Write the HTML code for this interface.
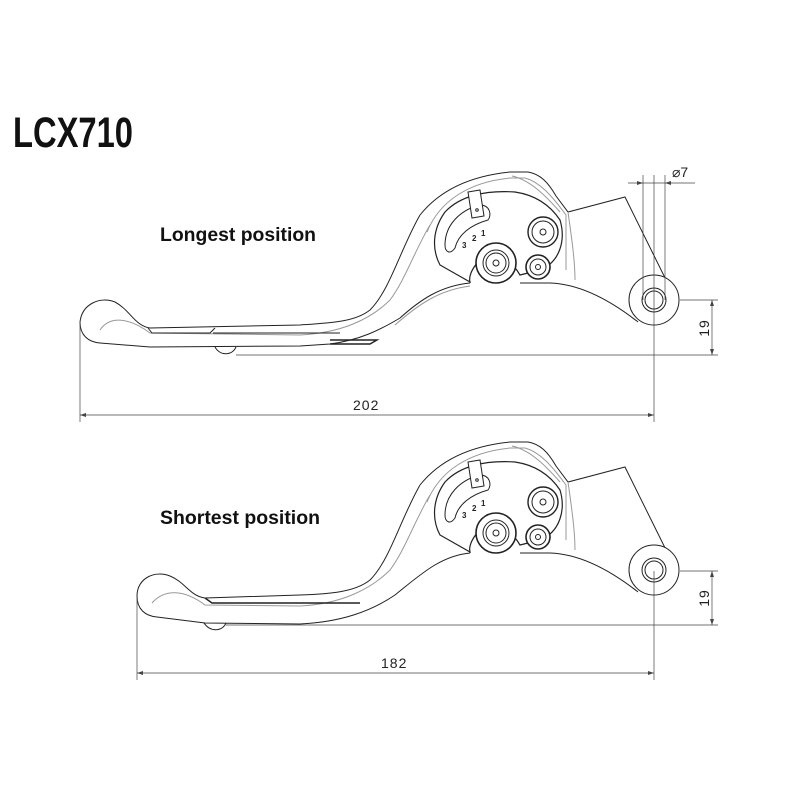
<!DOCTYPE html>
<html><head><meta charset="utf-8"><style>
html,body{margin:0;padding:0;background:#fff;}
svg{display:block;}
text{font-family:"Liberation Sans",sans-serif;}
</style></head><body>
<svg width="800" height="800" viewBox="0 0 800 800" xmlns="http://www.w3.org/2000/svg">
<defs>
<g id="head" fill="none" stroke="#222" stroke-width="1">
  <path d="M420,215 C440,190 470,176 510,172 L528,172 C540,174 548,182 556,196 L568,212 L625,197 L672,292"/>
  <path d="M512,176 C530,180 545,195 560,212" stroke="#999"/>
  <circle cx="654" cy="300" r="25" fill="#fff"/>
  <circle cx="654" cy="300" r="12"/>
  <circle cx="654" cy="300" r="9"/>
  <path d="M638,322 C610,300 580,284 550,283 L520,283"/>
  <path d="M440,265 C432,250 432,230 445,212 C460,196 485,190 515,192 C535,195 550,205 560,220 C566,240 560,262 540,270 L520,275 C512,262 500,250 490,255 C475,260 468,275 470,282 Z" stroke-width="1.2"/>
  <path d="M427,232 C440,200 470,182 510,178 L525,178 C540,182 552,196 566,215 L566,270" stroke="#999"/>
  <path d="M568,212 C572,240 575,262 575,280" stroke="#999"/>
  <path d="M445,245 C445,225 460,210 480,205 C490,205 492,215 488,220 C470,225 458,235 455,248 C450,255 445,252 445,245 Z"/>
  <path d="M468,192 L480,190 L484,216 L472,218 Z" fill="#fff"/>
  <circle cx="477" cy="210" r="1.3"/>
  <circle cx="496" cy="263" r="20" stroke-width="1.6" fill="#fff"/>
  <circle cx="496" cy="263" r="13"/>
  <circle cx="496" cy="263" r="10"/>
  <circle cx="496" cy="263" r="3"/>
  <circle cx="543" cy="232" r="15" stroke-width="1.4" fill="#fff"/>
  <circle cx="543" cy="232" r="11"/>
  <circle cx="543" cy="232" r="3"/>
  <circle cx="538" cy="267" r="12" stroke-width="1.6" fill="#fff"/>
  <circle cx="538" cy="267" r="8"/>
  <circle cx="538" cy="267" r="2.5"/>
  <text x="462" y="248" font-size="8" font-weight="bold" fill="#222" stroke="none">3</text>
  <text x="472" y="241" font-size="8" font-weight="bold" fill="#222" stroke="none">2</text>
  <text x="481" y="236" font-size="8" font-weight="bold" fill="#222" stroke="none">1</text>
</g>
</defs>

<text x="13" y="147" font-size="43" font-weight="bold" textLength="120" lengthAdjust="spacingAndGlyphs" fill="#111">LCX710</text>
<text x="160" y="241" font-size="19" font-weight="bold" textLength="156" lengthAdjust="spacingAndGlyphs" fill="#111">Longest position</text>
<text x="160" y="524" font-size="19" font-weight="bold" textLength="160" lengthAdjust="spacingAndGlyphs" fill="#111">Shortest position</text>

<g fill="none" stroke="#222" stroke-width="1">
  <path d="M420,215 C400,250 390,290 370,310 C355,322 330,323 300,325 L150,328 C135,326 130,310 115,302 C100,296 82,304 80,322 C80,335 88,342 100,343 L150,347 L300,346 L330,344 C360,340 380,330 400,318 C420,300 440,286 470,283"/>
  <path d="M395,325 C420,303 440,290 470,286" stroke="#999"/>
  <path d="M100,330 C110,315 130,318 150,333 L300,335 C340,333 370,320 390,300 C405,280 415,250 430,225" stroke="#999"/>
  <path d="M148,328 L152,333 L210,333 L215,328 M213,333 L340,333" />
  <path d="M330,340 L377,340 L370,344 L330,344" stroke-width="1.4"/>
  <path d="M215,347 C220,356 232,356 236,347"/>
  <use href="#head"/>
</g>

<g fill="none" stroke="#222" stroke-width="1">
  <path d="M420,485 C400,520 390,560 370,580 C355,592 330,594 300,595 L205,598 C190,596 185,582 170,576 C155,570 137,578 137,596 C137,609 145,616 157,617 L205,623 L300,624 C340,622 370,612 395,595 C420,575 440,556 470,553"/>
  <path d="M152,603 C165,588 185,590 205,605 L300,606 C340,604 370,590 390,570 C405,550 415,520 430,495" stroke="#999"/>
  <path d="M205,598 L212,603 L360,603" stroke-width="1.4"/>
  <path d="M204,623 C210,632 222,632 226,623"/>
  <use href="#head" transform="translate(0,270)"/>
</g>

<g stroke="#444" stroke-width="0.7" fill="none">
  <line x1="80" y1="322" x2="80" y2="422"/>
  <line x1="654" y1="175" x2="654" y2="422"/>
  <line x1="80" y1="415" x2="654" y2="415"/>
  <line x1="643" y1="175" x2="643" y2="300"/>
  <line x1="665" y1="175" x2="665" y2="300"/>
  <line x1="628" y1="183" x2="695" y2="183"/>
  <line x1="680" y1="300" x2="718" y2="300"/>
  <line x1="236" y1="355" x2="718" y2="355"/>
  <line x1="712" y1="300" x2="712" y2="355"/>
  <line x1="137" y1="598" x2="137" y2="680"/>
  <line x1="654" y1="571" x2="654" y2="680"/>
  <line x1="137" y1="673" x2="654" y2="673"/>
  <line x1="680" y1="571" x2="718" y2="571"/>
  <line x1="226" y1="625" x2="718" y2="625"/>
  <line x1="712" y1="571" x2="712" y2="625"/>
</g>
<g fill="#444">
  <path d="M80,415 l6,-2 v4z M654,415 l-6,-2 v4z M643,183 l-6,-2 v4z M665,183 l6,-2 v4z M712,300 l-2,6 h4z M712,355 l-2,-6 h4z M137,673 l6,-2 v4z M654,673 l-6,-2 v4z M712,571 l-2,6 h4z M712,625 l-2,-6 h4z"/>
</g>
<g fill="#222" font-size="14">
  <text x="353" y="410" letter-spacing="1">202</text>
  <text x="381" y="668" letter-spacing="1">182</text>
  <text x="672" y="177" font-size="14">⌀7</text>
  <text transform="translate(709,328) rotate(-90)" text-anchor="middle" letter-spacing="1">19</text>
  <text transform="translate(709,598) rotate(-90)" text-anchor="middle" letter-spacing="1">19</text>
</g>
</svg>
</body></html>
